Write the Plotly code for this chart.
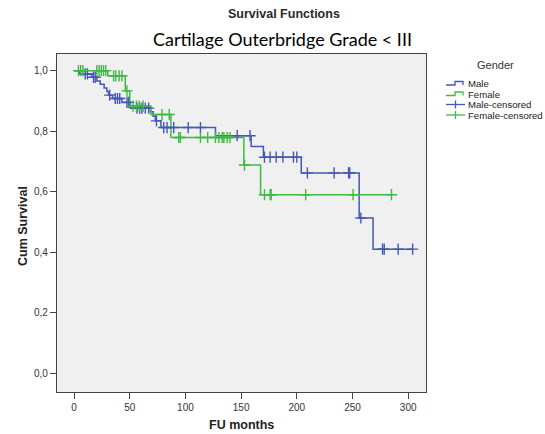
import plotly.graph_objects as go

# ---------------- data ----------------
male_event_t = [5, 16, 20.5, 23.5, 27, 29.5, 31, 34.5, 43, 50.5, 68.5, 71, 73, 78,
                127, 159, 170, 204, 256, 268.5]
male_event_s = [0.989, 0.978, 0.966, 0.955, 0.943, 0.931, 0.919, 0.908, 0.895, 0.876,
                0.864, 0.849, 0.834, 0.812, 0.785, 0.749, 0.714, 0.662, 0.513, 0.410]
male_censor_t = [10, 12, 17.5, 19, 32, 37, 39, 41, 47.5, 49, 56.5, 59, 61, 64, 67, 74,
                 80.5, 83.5, 89.5, 102.5, 113.5, 146.5, 158, 171, 176, 181.5, 187.5,
                 197, 200, 209.5, 233.5, 246.5, 247.5, 257.5, 277, 278.5, 291, 304]

female_event_t = [30.3, 46, 50, 69, 87, 152.5, 167.5]
female_event_s = [0.983, 0.933, 0.883, 0.855, 0.779, 0.688, 0.590]
female_censor_t = [4, 6, 8, 20.5, 22.5, 24.5, 26.5, 28.5, 35.5, 37.5, 40.5, 43, 47.5,
                   53, 56, 58.5, 62, 79, 85.5, 94, 95.5, 113.5, 120, 127, 130, 133,
                   134.5, 137.5, 140, 153, 171, 176, 177, 208, 250.5, 285]

x_ticks = [0, 50, 100, 150, 200, 250, 300]
y_ticks = [0.0, 0.2, 0.4, 0.6, 0.8, 1.0]
legend_labels = ["Male", "Female", "Male-censored", "Female-censored"]

MALE_C = "#4458b4"
FEMALE_C = "#3fb845"
FONT = "Arial, 'Liberation Sans', sans-serif"


def step_xy(ev_t, ev_s, end_t):
    xs = [0] + list(ev_t) + [end_t]
    ys = [1.0] + list(ev_s) + [ev_s[-1]]
    return xs, ys


def surv_at(t, ev_t, ev_s):
    s = 1.0
    for et, es in zip(ev_t, ev_s):
        if et <= t:
            s = es
    return s


fig = go.Figure()

mx, my = step_xy(male_event_t, male_event_s, max(male_censor_t))
fx, fy = step_xy(female_event_t, female_event_s, max(female_censor_t))

fig.add_trace(go.Scatter(x=mx, y=my, mode="lines", line_shape="hv",
                         line=dict(color=MALE_C, width=1.5), name="Male"))
fig.add_trace(go.Scatter(x=fx, y=fy, mode="lines", line_shape="hv",
                         line=dict(color=FEMALE_C, width=1.5), name="Female"))
fig.add_trace(go.Scatter(
    x=male_censor_t, y=[surv_at(t, male_event_t, male_event_s) for t in male_censor_t],
    mode="markers", name="Male-censored",
    marker=dict(symbol="cross-thin", size=8, line=dict(color=MALE_C, width=1.4))))
fig.add_trace(go.Scatter(
    x=female_censor_t, y=[surv_at(t, female_event_t, female_event_s) for t in female_censor_t],
    mode="markers", name="Female-censored",
    marker=dict(symbol="cross-thin", size=8, line=dict(color=FEMALE_C, width=1.4))))

W, H = 545, 434
L, R, T, B = 57, 426, 54, 392


def px_x(px):
    return (px - L) / (R - L)


def px_y(py):
    return (B - py) / (B - T)


annotations = [
    dict(text="<b>Survival Functions</b>", x=px_x(284), y=px_y(14), xref="paper", yref="paper",
         showarrow=False, font=dict(family=FONT, size=12.5, color="#2a2a2a"),
         xanchor="center", yanchor="middle"),
    dict(text="Cartilage Outerbridge Grade &lt; III", x=px_x(282), y=px_y(39),
         xref="paper", yref="paper", showarrow=False,
         font=dict(family="Lato, 'Open Sans', sans-serif", size=18, color="#000"),
         xanchor="center", yanchor="middle"),
    dict(text="<b>Cum Survival</b>", x=px_x(23), y=px_y(226), xref="paper", yref="paper",
         showarrow=False, textangle=-90, font=dict(family=FONT, size=12.5, color="#222"),
         xanchor="center", yanchor="middle"),
    dict(text="<b>FU months</b>", x=px_x(241.5), y=px_y(425), xref="paper", yref="paper",
         showarrow=False, font=dict(family=FONT, size=12.5, color="#222"),
         xanchor="center", yanchor="middle"),
    dict(text="Gender", x=px_x(495), y=px_y(65), xref="paper", yref="paper",
         showarrow=False, font=dict(family=FONT, size=11, color="#333"),
         xanchor="center", yanchor="middle"),
]

shapes = []
leg_y = [83.5, 94, 104.5, 115]
leg_cols = [MALE_C, FEMALE_C, MALE_C, FEMALE_C]
for i, (lab, yy, col) in enumerate(zip(legend_labels, leg_y, leg_cols)):
    annotations.append(dict(text=lab, x=px_x(466), y=px_y(yy), xref="paper", yref="paper",
                            showarrow=False, font=dict(family=FONT, size=9.6, color="#222"),
                            xanchor="left", yanchor="middle"))
    if i < 2:
        path = "M {:.4f},{:.4f} L {:.4f},{:.4f} L {:.4f},{:.4f} L {:.4f},{:.4f} L {:.4f},{:.4f}".format(
            px_x(446), px_y(yy + 1.5), px_x(455), px_y(yy + 1.5), px_x(455), px_y(yy - 2),
            px_x(463), px_y(yy - 2), px_x(463), px_y(yy + 1.5))
        shapes.append(dict(type="path", xref="paper", yref="paper", path=path,
                           line=dict(color=col, width=1.3)))
    else:
        shapes.append(dict(type="line", xref="paper", yref="paper",
                           x0=px_x(446), x1=px_x(465), y0=px_y(yy), y1=px_y(yy),
                           line=dict(color=col, width=1.3)))
        shapes.append(dict(type="line", xref="paper", yref="paper",
                           x0=px_x(455.5), x1=px_x(455.5), y0=px_y(yy - 4), y1=px_y(yy + 4),
                           line=dict(color=col, width=1.3)))

fig.update_layout(
    width=W, height=H,
    margin=dict(l=L, r=W - R, t=T, b=H - B, pad=0, autoexpand=False),
    paper_bgcolor="white", plot_bgcolor="#f0f0f0",
    separators=",.",
    showlegend=False,
    font=dict(family=FONT, size=10, color="#333"),
    annotations=annotations,
    shapes=shapes,
    xaxis=dict(range=[-15.3, 316], tickvals=x_ticks, ticks="outside", ticklen=6,
               tickcolor="#444", showline=True, linecolor="#444", linewidth=1.2,
               mirror=True, showgrid=False, zeroline=False, automargin=False,
               tickfont=dict(family=FONT, size=10, color="#333")),
    yaxis=dict(range=[-0.062, 1.055], tickvals=y_ticks, tickformat=".1f", ticks="outside",
               ticklen=6, tickcolor="#444", showline=True, linecolor="#444", linewidth=1.2,
               mirror=True, showgrid=False, zeroline=False, automargin=False,
               tickfont=dict(family=FONT, size=10, color="#333")),
)

fig.write_html("out.html")
